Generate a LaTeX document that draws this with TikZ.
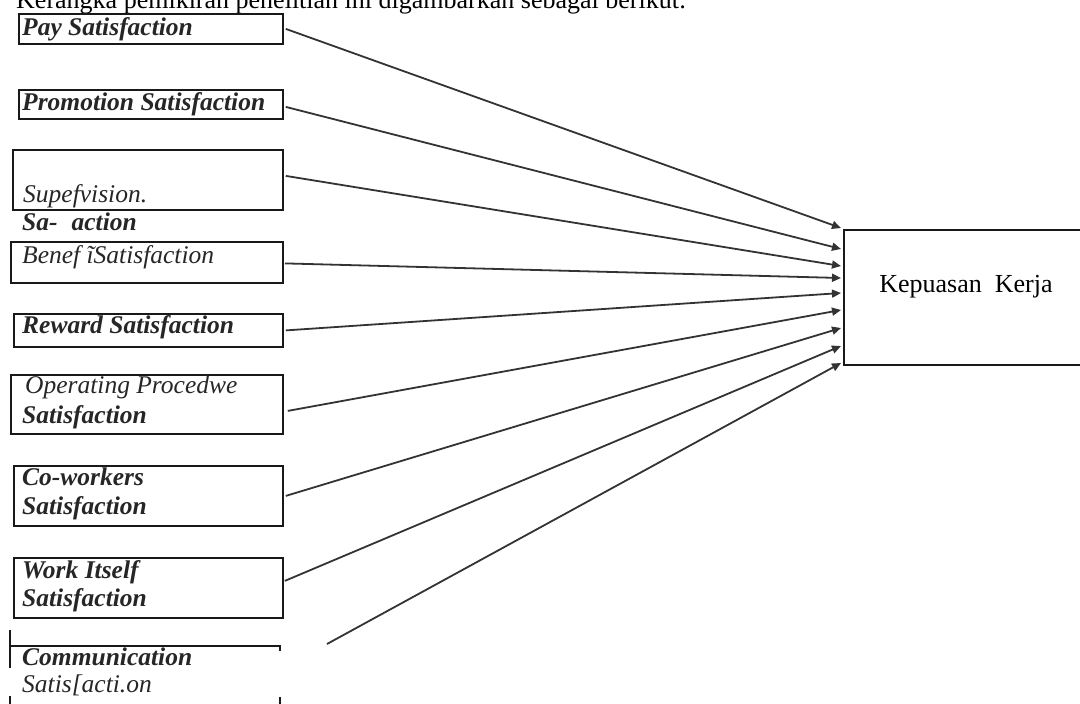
\documentclass[tikz,border=0pt]{standalone}
\usepackage{fontspec}
\setmainfont{Liberation Serif}
\usetikzlibrary{arrows.meta}
\begin{document}
\begin{tikzpicture}[x=1pt,y=-1pt,
  boxstyle/.style={draw=black!90, line width=1.8pt, inner sep=0pt, anchor=north west},
  lbl/.style={anchor=base west, inner sep=0pt, text=black!85, font=\fontsize{25.5}{30}\selectfont\bfseries\itshape},
  lbli/.style={anchor=base west, inner sep=0pt, text=black!85, font=\fontsize{25.5}{30}\selectfont\itshape},
  conn/.style={draw=black!80, line width=1.8pt, -{Triangle[length=9pt,width=8pt]}},
  edge/.style={draw=black!90, line width=1.8pt},
]
\useasboundingbox (0,0) rectangle (1080,704);

% header
\node[anchor=base west, inner sep=0pt, font=\fontsize{26}{30}\selectfont] (hdr) at (16,9)
  {Kerangka pemikiran penelitian ini digambarkan sebagai berikut:};

% left boxes
\node[boxstyle, minimum width=264pt, minimum height=30pt] (pay) at (18,13) {};
\node[boxstyle, minimum width=264pt, minimum height=29pt] (promo) at (18,89) {};
\node[boxstyle, minimum width=270pt, minimum height=60pt] (superv) at (12,149) {};
\node[boxstyle, minimum width=272pt, minimum height=41pt] (benef) at (10,241) {};
\node[boxstyle, minimum width=269pt, minimum height=33pt] (reward) at (13,313) {};
\node[boxstyle, minimum width=272pt, minimum height=59pt] (oper) at (10,374) {};
\node[boxstyle, minimum width=269pt, minimum height=60pt] (cowork) at (13,465) {};
\node[boxstyle, minimum width=269pt, minimum height=60pt] (work) at (13,557) {};

% partial communication box
\draw[edge] (10,630) -- (10,668);
\draw[edge] (10,646) -- (280,646) -- (280,651);
\draw[edge] (10,696) -- (10,704);
\draw[edge] (280,697) -- (280,704);

% labels
\node[lbl] (tpay) at (22,35) {Pay Satisfaction};
\node[lbl] (tpromo) at (22,110) {Promotion Satisfaction};
\node[lbli] (tsup1) at (23,202) {Supefvision.};
\node[lbl] (tsup2) at (22,230) {Sa-\hspace{14pt}action};
\node[lbli] (tben) at (22,263) {Benef ĩSatisfaction};
\node[lbl] (trew) at (22,333) {Reward Satisfaction};
\node[lbli] (top1) at (25,393) {Operating Procedwe};
\node[lbl] (top2) at (22,423) {Satisfaction};
\node[lbl] (tco1) at (22,485) {Co-workers};
\node[lbl] (tco2) at (22,514) {Satisfaction};
\node[lbl] (twk1) at (22,578) {Work Itself};
\node[lbl] (twk2) at (22,606) {Satisfaction};
\node[lbl] (tcm1) at (22,665) {Communication};
\node[lbli] (tcm2) at (22,692) {Satis[acti.on};

% right box
\node[boxstyle, minimum width=260pt, minimum height=135pt] (kk) at (843,229) {};
\node[anchor=base, inner sep=0pt, font=\fontsize{26}{30}\selectfont] (kt) at (966,292) {Kepuasan\ \ Kerja};

% arrow targets
\coordinate (t1) at (841,228);
\coordinate (t2) at (841,249);
\coordinate (t3) at (841,266);
\coordinate (t4) at (841,278);
\coordinate (t5) at (841,293);
\coordinate (t6) at (841,310);
\coordinate (t7) at (841,328);
\coordinate (t8) at (841,346);
\coordinate (t9) at (841,363);
\coordinate (cfree) at (327,644);

% connectors
\draw[conn] ([xshift=2pt]pay.east) -- (t1);
\draw[conn] ([xshift=2pt,yshift=-2.5pt]promo.east) -- (t2);
\draw[conn] ([xshift=2pt,yshift=4pt]superv.east) -- (t3);
\draw[conn] ([xshift=1pt,yshift=-1pt]benef.east) -- (t4);
\draw[conn] ([xshift=2pt]reward.east) -- (t5);
\draw[conn] ([xshift=4pt,yshift=-6.5pt]oper.east) -- (t6);
\draw[conn] ([xshift=2pt]cowork.east) -- (t7);
\draw[conn] ([xshift=1pt,yshift=7pt]work.east) -- (t8);
\draw[conn] (cfree) -- (t9);
\end{tikzpicture}
\end{document}
